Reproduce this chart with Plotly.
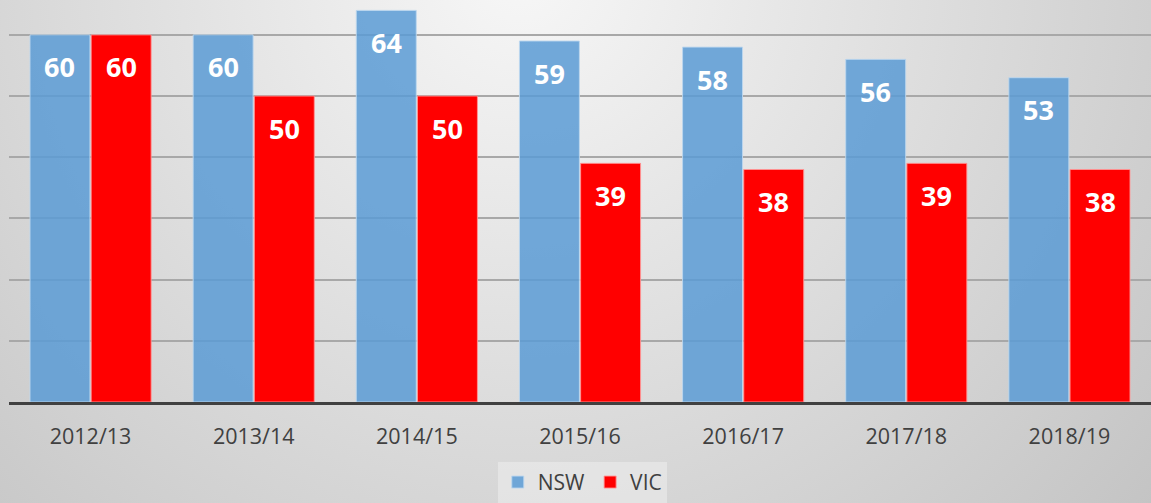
import base64
import plotly.graph_objects as go

# Data
years = ["2012/13", "2013/14", "2014/15", "2015/16", "2016/17", "2017/18", "2018/19"]
nsw = [60, 60, 64, 59, 58, 56, 53]
vic = [60, 50, 50, 39, 38, 39, 38]

# soft radial grey background (like the original slide)
svg = """<svg xmlns='http://www.w3.org/2000/svg' width='1151' height='503'>
<defs><radialGradient id='g' gradientUnits='userSpaceOnUse' cx='520' cy='-30' r='860'>
<stop offset='0' stop-color='#f7f7f7'/><stop offset='1' stop-color='#c2c2c2'/>
</radialGradient></defs><rect width='1151' height='503' fill='url(#g)'/></svg>"""
bg_src = "data:image/svg+xml;base64," + base64.b64encode(svg.encode()).decode()

fig = go.Figure()
fig.add_trace(go.Bar(
    name="NSW", x=years, y=nsw,
    marker=dict(color="rgba(91,155,213,0.85)", line=dict(color="rgba(189,215,238,0.9)", width=1)),
))
fig.add_trace(go.Bar(
    name="VIC", x=years, y=vic,
    marker=dict(color="#ff0000", line=dict(color="rgba(255,150,150,0.9)", width=1)),
))

# value labels inside the bars
for vals, shift in [(nsw, -30.6), (vic, 30.6)]:
    for yr, v in zip(years, vals):
        fig.add_annotation(
            x=yr, y=v, text=str(v), showarrow=False,
            xshift=shift, yshift=-32, yanchor="middle",
            font=dict(family="Open Sans", size=27, color="white", weight="bold"),
        )

fig.add_layout_image(
    source=bg_src, xref="paper", yref="paper",
    x=-9 / 1142, y=1, sizex=1151 / 1142, sizey=503 / 402,
    xanchor="left", yanchor="top", sizing="stretch", layer="below",
)

fig.update_layout(
    width=1151, height=503,
    margin=dict(l=9, r=0, t=0, b=101),
    paper_bgcolor="#dcdcdc",
    plot_bgcolor="rgba(0,0,0,0)",
    barmode="group", bargap=0.25, bargroupgap=0.02,
    font=dict(family="Open Sans", color="#404040"),
    showlegend=True,
    legend=dict(
        orientation="h", x=0.502, xanchor="center", y=-0.2, yanchor="middle",
        font=dict(size=21, color="#404040"),
        bgcolor="rgba(238,238,238,0.55)",
        itemwidth=30,
    ),
)
fig.update_xaxes(
    showline=True, linecolor="#404040", linewidth=3,
    tickfont=dict(size=21.5, color="#404040"), ticklabelstandoff=13,
    showgrid=False,
)
fig.update_yaxes(
    range=[0, 65.7], dtick=10, showticklabels=False,
    showgrid=True, gridcolor="#a8a8a8", gridwidth=2, zeroline=False,
)

fig.write_html("out.html", config={"displayModeBar": False},
               post_script="document.body.style.margin='0';")
